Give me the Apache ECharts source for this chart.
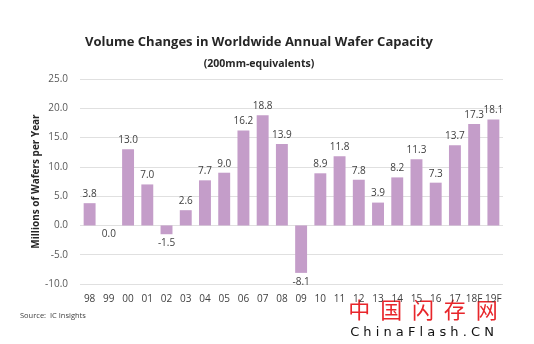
<!DOCTYPE html>
<html>
<head>
<meta charset="utf-8">
<script src="https://cdn.jsdelivr.net/npm/echarts@6/dist/echarts.min.js"></script>
<style>html,body{margin:0;padding:0;background:#fff}#c{width:534px;height:344px}</style>
</head>
<body>
<div id="c"></div>
<script>
const categories = ['98','99','00','01','02','03','04','05','06','07','08','09','10','11','12','13','14','15','16','17','18F','19F'];
const values = [3.8, 0.0, 13.0, 7.0, -1.5, 2.6, 7.7, 9.0, 16.2, 18.8, 13.9, -8.1, 8.9, 11.8, 7.8, 3.9, 8.2, 11.3, 7.3, 13.7, 17.3, 18.1];
const yTicks = { min: -10, max: 25, interval: 5 };
const titleText = 'Volume Changes in Worldwide Annual Wafer Capacity';
const subtitleText = '(200mm-equivalents)';
const yAxisName = 'Millions of Wafers per Year';
const sourceText = 'Source:  IC Insights';

const chart = echarts.init(document.getElementById('c'), null, {renderer: 'canvas'});
const font = '"Open Sans", "DejaVu Sans", sans-serif';
chart.setOption({
  animation: false,
  backgroundColor: '#ffffff',
  grid: { left: 80, right: 31, top: 79, bottom: 60 },
  xAxis: {
    type: 'category',
    data: categories,
    axisLine: { show: false, onZero: false },
    axisTick: { show: false },
    axisLabel: { color: '#404040', fontSize: 10, fontFamily: font, margin: 10, interval: 0 }
  },
  yAxis: {
    type: 'value',
    min: yTicks.min, max: yTicks.max, interval: yTicks.interval,
    name: yAxisName,
    nameLocation: 'middle',
    nameGap: 39,
    nameMoveOverlap: false,
    nameTextStyle: { color: '#262626', fontSize: 10, fontWeight: 'bold', fontFamily: font },
    axisLabel: { color: '#595959', fontSize: 10, fontFamily: font, margin: 12, formatter: v => v.toFixed(1) },
    axisLine: { show: false },
    axisTick: { show: false },
    splitLine: { lineStyle: { color: '#e0e0e0', width: 1 } }
  },
  series: [{
    type: 'bar',
    data: values,
    barWidth: '62%',
    itemStyle: { color: '#c49dc9' },
    label: {
      show: true,
      position: 'outside',
      color: '#404040',
      fontSize: 10,
      fontFamily: font,
      distance: 4,
      formatter: p => p.value.toFixed(1)
    }
  }],
  graphic: [
    { type: 'text', x: 259, y: 42, style: { text: titleText, x: 0, y: 0, align: 'center', verticalAlign: 'middle', fontSize: 13, fontWeight: 'bold', fontFamily: font, fill: '#262626' } },
    { type: 'text', x: 259, y: 64, style: { text: subtitleText, x: 0, y: 0, align: 'center', verticalAlign: 'middle', fontSize: 10.5, fontWeight: 'bold', fontFamily: font, fill: '#262626' } },
    { type: 'text', x: 20, y: 316, style: { text: sourceText, x: 0, y: 0, align: 'left', verticalAlign: 'middle', fontSize: 7.5, fontFamily: font, fill: '#404040' } },
    { type: 'text', x: 423, y: 310, style: { text: '中  国  闪  存  网', x: 0, y: 0, align: 'center', verticalAlign: 'middle', fontSize: 22, fontFamily: '"Noto Sans CJK SC", sans-serif', fill: '#e8262b' } },
    { type: 'text', x: 422, y: 333, style: { text: 'C h i n a F l a s h . C N', x: 0, y: 0, align: 'center', verticalAlign: 'middle', fontSize: 13, fontFamily: '"DejaVu Sans", sans-serif', fill: '#111111' } }
  ]
});
</script>
</body>
</html>
